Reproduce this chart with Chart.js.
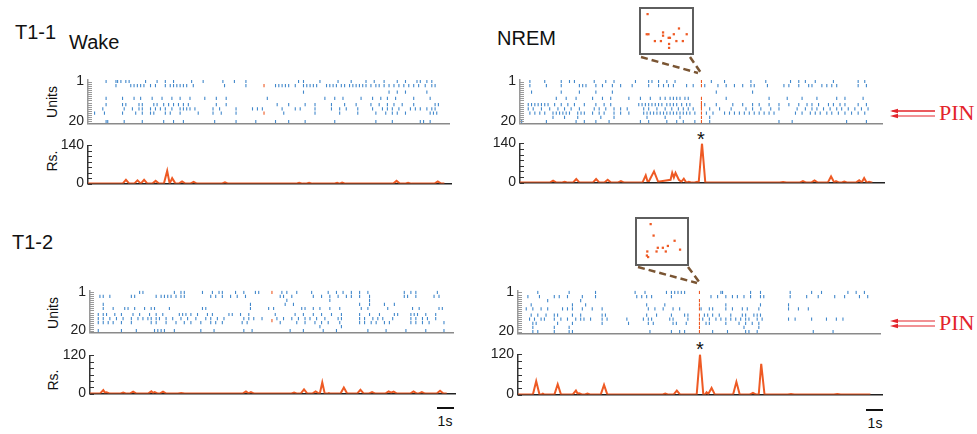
<!DOCTYPE html>
<html>
<head>
<meta charset="utf-8">
<script src="https://cdn.jsdelivr.net/npm/chart.js@4.4.1/dist/chart.umd.min.js"></script>
<style>
  body { margin: 0; background: #fff; width: 977px; height: 434px; position: relative; overflow: hidden;
         font-family: "Liberation Sans", Arial, sans-serif; color: #111; }
  canvas { position: absolute; }
  .t { position: absolute; line-height: 1; white-space: nowrap; }
  .big { font-size: 20px; }
  .rot { font-size: 14px; transform: translate(-50%, -50%) rotate(-90deg); }
  .star { font-size: 20px; transform: translateX(-50%); }
  .pin { font-family: "Liberation Serif", "Times New Roman", serif; font-size: 22px; color: #e3242b; }
  .bar { position: absolute; height: 2px; background: #111; }
  .sec { font-size: 14px; transform: translateX(-50%); }
  .inset { position: absolute; border: 2px solid #5e5e5e; box-sizing: border-box; }
  .inset canvas { left: 0; top: 0; }
</style>
</head>
<body>

<div class="t big" style="left:15px;top:22px">T1-1</div>
<div class="t big" style="left:69px;top:32px">Wake</div>
<div class="t big" style="left:497px;top:28px">NREM</div>
<div class="t big" style="left:12px;top:232px">T1-2</div>
<div class="t rot" style="left:52px;top:102px">Units</div>
<div class="t rot" style="left:52px;top:161px">Rs.</div>
<div class="t rot" style="left:53px;top:313px">Units</div>
<div class="t rot" style="left:53px;top:380px">Rs.</div>
<div class="t star" style="left:701px;top:129px">*</div>
<div class="t star" style="left:700px;top:339px">*</div>
<div class="t pin" style="left:939px;top:102px">PIN</div>
<div class="t pin" style="left:939px;top:312px">PIN</div>
<div class="bar" style="left:437px;top:407px;width:16.5px"></div>
<div class="t sec" style="left:445px;top:414px">1s</div>
<div class="bar" style="left:866px;top:409px;width:16.5px"></div>
<div class="t sec" style="left:875px;top:416px">1s</div>

<canvas id="rTL"></canvas><canvas id="lTL"></canvas>
<canvas id="rTR"></canvas><canvas id="lTR"></canvas>
<canvas id="rBL"></canvas><canvas id="lBL"></canvas>
<canvas id="rBR"></canvas><canvas id="lBR"></canvas>

<div class="inset" style="left:639px;top:7px;width:55px;height:48px"><canvas id="iTR" width="51" height="44"></canvas></div>
<div class="inset" style="left:635px;top:217px;width:54px;height:49px"><canvas id="iBR" width="50" height="45"></canvas></div>

<svg width="977" height="434" style="position:absolute;left:0;top:0">
  <defs>
    <marker id="ah" markerWidth="7" markerHeight="5" refX="0" refY="2.5" orient="auto" markerUnits="userSpaceOnUse">
      <path d="M0,2.5 L7,0 L7,5 z" fill="#e3242b"/>
    </marker>
  </defs>
  <g stroke="#7a5533" stroke-width="2.5" stroke-dasharray="7 4" fill="none">
    <line x1="641" y1="57" x2="698" y2="73"/>
    <line x1="690" y1="57" x2="701" y2="73"/>
    <line x1="638" y1="267" x2="697" y2="283"/>
    <line x1="688" y1="267" x2="700" y2="283"/>
  </g>
  <g stroke="#e3242b" stroke-width="1" fill="none">
    <path d="M935,111 L892,111" marker-end="url(#ahE)"/>
  </g>
  <g fill="#e3242b">
    <rect x="896" y="110.5" width="39" height="1"/>
    <rect x="896" y="115.5" width="39" height="1"/>
    <rect x="896" y="320.5" width="39" height="1"/>
    <rect x="896" y="325.5" width="39" height="1"/>
    <path d="M890,111 L898,108.8 L898,113.2 z"/>
    <path d="M890,116 L898,113.8 L898,118.2 z"/>
    <path d="M890,321 L898,318.8 L898,323.2 z"/>
    <path d="M890,326 L898,323.8 L898,328.2 z"/>
  </g>
</svg>

<script>
// spike times (s) per unit row: [unit, [times]]
const tlSpikes = [
  [1, [1.1,1.7,1.8,2.0,2.3,2.5,3.5,4.2,4.7,5.2,6.3,7.0,8.2,8.9,9.6,12.8,13.1,14.1,15.2,16.0,16.9,17.4,18.0,18.8,19.3,20.0,20.2,20.6,20.9]],
  [3, [1.7,2.6,2.8,3.0,3.2,3.4,3.8,4.1,4.7,5.0,5.2,5.4,5.6,5.8,6.0,6.4,8.3,9.6,11.4,11.6,11.8,12.0,12.2,12.6,13.1,13.3,13.5,13.7,13.9,14.5,14.7,14.9,15.1,15.4,15.6,15.9,16.1,16.3,16.5,16.7,16.9,17.2,17.5,17.7,18.0,18.3,18.6,18.9,19.2,19.5,19.8,20.1,20.5,20.9,21.1]],
  [6, [13.1,18.3,18.8,19.3,20.6]],
  [9, [1.1,2.1,2.8,3.2,3.9,4.5,5.1,5.6,6.2,7.1,7.8,8.4,10.9,14.4,15.0,15.5,16.6,17.3,17.8,18.2,18.7,19.8,20.8]],
  [12, [1.1,2.1,2.3,3.1,3.3,4.0,4.2,4.6,4.9,5.2,5.5,5.8,6.1,7.8,8.4,11.5,12.2,13.2,13.8,14.8,15.6,16.3,17.2,17.7,18.2,18.6,19.1,19.8,21.1,21.3]],
  [14, [0.9,2.2,2.7,3.1,3.3,3.8,4.1,4.4,4.7,5.1,5.6,5.8,6.0,6.2,6.5,7.6,8.0,9.0,10.0,10.3,10.6,11.8,12.6,12.9,13.8,14.8,15.3,15.7,16.4,17.3,17.9,18.2,18.5,18.9,19.6,19.9,20.2,20.6,20.9,21.1]],
  [16, [0.4,1.0,2.1,2.9,3.3,3.8,4.0,4.7,5.0,5.6,6.7,7.6,8.1,9.0,11.9,13.8,15.3,16.4,17.5,18.1,18.5,18.8,19.3,20.8,21.0,21.2]],
  [20, [1.1,1.2,2.2,3.3,4.6,5.2,5.8,7.7,9.0,10.2,11.4,12.2,13.2,15.0,17.5,18.5,20.2,20.4,20.8]]
];
const tlRedUnits = [3, 16];
const tlRedTime = 10.7;

const trSpikes = [
  [1, [0.6,1.5,2.5,3.0,3.3,4.5,5.2,5.7,7.0,7.8,8.0,8.4,8.9,9.4,11.6,12.4,14.0,14.9,16.4,16.9,17.3,17.9,19.0,20.5,20.9]],
  [3, [0.6,1.6,2.5,3.6,3.8,4.0,4.6,5.0,5.6,6.1,6.8,7.8,8.4,8.7,9.0,9.3,10.1,10.5,11.2,12.0,12.5,13.0,13.5,14.0,14.2,15.0,16.0,16.3,16.9,17.5,17.7,18.3,18.6,18.9,19.2,20.5,21.0]],
  [6, [0.7,2.5,3.6,4.6,5.6,11.9,14.1]],
  [9, [2.2,2.8,3.4,4.4,5.0,5.5,6.6,7.3,7.9,8.5,8.8,9.1,9.3,9.5,9.7,10.0,10.2,12.5,15.1,16.2,17.1,18.0,19.2,19.7,20.8]],
  [12, [0.5,0.7,0.9,1.1,1.3,1.5,1.7,2.1,2.5,2.9,3.3,3.9,4.6,5.1,5.5,7.2,7.4,7.6,7.8,8.0,8.2,8.4,8.6,8.9,9.1,9.3,9.5,9.8,10.1,10.3,11.2,11.9,12.9,13.5,14.1,14.5,15.1,15.7,16.3,16.9,17.4,17.7,18.1,18.7,19.0,19.4,19.7,20.5,21.0]],
  [14, [0.5,0.8,1.3,1.8,2.3,2.7,3.1,3.6,4.5,4.8,5.2,5.7,6.1,6.5,7.5,7.8,8.3,8.8,9.2,9.6,9.9,10.2,10.5,11.5,12.1,12.8,13.7,14.1,14.6,15.2,15.7,16.8,17.3,17.7,18.0,18.4,18.8,19.2,19.5,19.9,20.3,20.7,21.1]],
  [16, [0.6,0.9,1.2,1.5,2.0,2.2,2.4,2.6,2.8,3.0,3.5,3.7,3.9,4.4,4.8,5.1,5.7,6.1,6.6,7.5,7.7,7.9,8.1,8.3,8.5,8.7,8.9,9.1,9.3,9.5,9.7,9.9,10.1,10.3,10.6,11.3,11.7,12.4,12.7,13.0,13.3,13.6,13.9,14.2,14.5,14.8,15.1,15.4,16.7,17.1,17.6,17.9,18.2,18.6,18.9,19.3,19.7,20.1,20.5,20.9]],
  [18, [2.0,2.7,3.5,4.9,5.7,7.7,8.8,9.7,11.5]],
  [20, [0.1,1.6,3.4,3.9,4.6,5.4,7.3,7.8,8.9,9.5,9.9,10.6,11.5,15.7,16.5,19.8,21.0]]
];
const trRedUnits = [1, 3, 9, 11, 12, 13, 14, 16, 18, 20];
const trRedTime = 11.0;

const blSpikes = [
  [1, [3.0,3.2,5.1,5.5,5.7,6.8,7.4,7.8,8.0,8.8,9.3,10.0,10.2,11.6,11.9,12.5,13.4,14.4,14.9,15.3,15.8,16.3,16.8,19.0,19.4,19.7,21.0]],
  [3, [0.6,0.8,1.2,2.5,2.7,4.0,4.3,4.5,4.7,4.9,5.2,5.5,5.7,7.3,7.6,8.0,8.5,8.9,9.4,11.5,11.7,12.2,13.5,14.0,14.5,15.0,15.5,15.8,16.3,16.9,19.0,19.2,19.7,20.8,21.1]],
  [5, [11.9,14.5,16.9]],
  [7, [0.8,9.7,11.8,12.3,16.3,16.9,17.8,18.4]],
  [9, [0.8,1.4,2.1,2.3,2.7,3.3,3.7,3.9,4.8,6.8,7.0,9.7,10.8,11.1,12.8,13.0,13.5,13.9,14.5,15.1,16.4,16.8,18.0,19.5,19.9,21.1,21.3]],
  [12, [0.5,0.8,1.0,1.5,1.9,2.6,3.0,3.6,4.0,4.4,5.4,5.6,5.8,6.1,6.5,7.1,7.4,8.4,8.6,9.1,9.6,11.2,12.4,12.9,13.5,14.0,14.6,15.2,16.3,16.9,17.5,18.4,18.6,19.4,19.6,19.8,20.3,20.9]],
  [14, [0.5,0.8,1.2,1.6,2.0,2.5,2.9,3.2,3.5,3.7,4.0,4.2,4.6,5.0,5.5,5.9,6.4,7.0,7.3,7.7,8.1,9.3,9.6,9.9,10.4,11.3,11.7,12.2,12.6,13.0,13.3,13.7,14.2,15.0,15.2,16.3,16.6,17.1,17.4,17.7,18.3,19.4,19.7,20.1,20.4,20.9]],
  [16, [0.5,0.8,1.1,1.4,1.9,2.5,3.7,4.0,4.6,5.2,5.7,6.1,6.7,7.3,7.6,8.0,9.2,9.5,11.5,12.5,13.0,13.6,14.0,14.4,15.1,16.3,16.6,17.0,17.3,17.8,18.1,19.4,19.7,20.1,20.5,21.4]],
  [18, [13.9,15.2]],
  [20, [0.5,1.9,2.8,3.9,4.1,4.3,4.5,5.1,6.7,7.5,9.3,9.8,12.1,12.9,14.1,14.9,16.8,17.9,19.1,20.3,21.4]]
];
const blRedUnits = [1, 15];
const blRedTime = 11.0;

const brSpikes = [
  [1, [1.2,3.1,4.7,7.1,7.7,9.0,9.3,9.5,9.7,9.9,10.1,12.3,12.4,14.1,14.7,16.5,17.8,18.4,20.0,20.5,21.0]],
  [3, [0.6,1.3,2.2,2.5,3.0,3.9,4.7,7.2,7.5,7.8,8.1,9.3,11.7,12.1,12.6,13.0,13.3,13.7,14.1,14.7,14.9,16.5,17.5,18.2,19.2,19.8,20.7,21.2]],
  [5, [1.8,3.8]],
  [7, [0.8,3.3,4.1,7.8,8.9,12.6,14.7,16.4]],
  [9, [0.5,0.9,1.4,1.8,2.7,3.0,3.3,3.9,4.5,5.1,7.9,8.3,8.8,9.4,9.8,11.1,11.6,11.8,12.6,13.0,13.6,13.9,14.6,16.4,17.0,17.6]],
  [12, [0.8,1.2,1.7,2.2,2.4,3.3,3.8,5.1,5.3,7.8,8.4,9.3,10.1,10.3,11.3,11.5,11.8,12.2,12.9,13.6,13.8,14.3,14.5,14.7]],
  [14, [0.7,1.0,1.4,1.6,2.2,2.6,3.0,3.5,3.8,4.0,4.4,5.1,5.4,6.6,7.6,7.9,8.1,9.2,9.4,10.3,11.2,11.6,12.0,12.3,12.6,12.9,13.2,13.5,13.8,14.0,14.5,14.8,16.4,16.8,17.8,18.7,19.3,19.7]],
  [16, [0.9,1.1,2.4,3.3,5.1,6.7,7.9,8.2,9.4,9.6,10.2,11.4,11.6,12.6,13.4,13.8,14.2,14.6]],
  [18, [0.9,2.2,3.1,13.7,14.6]],
  [20, [0.9,1.2,2.2,3.1,3.3,8.0,9.3,9.8,10.1,11.8,12.7,13.8,14.0,14.5,17.9,19.1]]
];
const brRedUnits = [1, 5, 7, 9, 12, 14, 16, 18, 20];
const brRedTime = 11.0;

// Rs. traces: [time (s), value]
const tlRs = [[0,0],[2.1,0],[2.3,14],[2.5,0],[2.8,0],[3.0,12],[3.2,0],[3.4,14],[3.6,0],[3.9,0],[4.1,10],[4.3,0],[4.6,0],[4.8,47],[4.95,0],[5.1,20],[5.3,0],[5.5,0],[5.7,8],[5.9,0],[6.2,0],[6.4,6],[6.6,0],[8.1,0],[8.3,5],[8.5,0],[12.6,0],[12.8,3],[13.0,0],[13.2,0],[13.4,3],[13.6,0],[14.9,0],[15.1,3],[15.25,0],[15.4,4],[15.6,0],[18.5,0],[18.7,10],[18.9,0],[19.2,0],[19.4,3],[19.6,0],[21.0,0],[21.2,8],[21.4,0],[21.6,0]];
const trRs = [[0,0],[1.8,0],[2.0,7],[2.2,0],[2.5,0],[2.7,3],[2.9,0],[3.2,0],[3.4,13],[3.6,0],[4.4,0],[4.6,13],[4.8,0],[5.1,0],[5.3,10],[5.5,0],[5.9,0],[6.1,5],[6.3,0],[7.4,0],[7.6,26],[7.7,6],[7.8,6],[8.1,40],[8.35,3],[9.1,10],[9.2,35],[9.3,18],[9.4,35],[9.6,10],[9.75,3],[9.9,14],[10.05,0],[10.2,3],[10.4,0],[10.5,0],[10.7,3],[10.8,0],[11.0,140],[11.2,0],[15.7,0],[15.9,2],[16.1,0],[16.9,0],[17.1,5],[17.3,0],[17.6,0],[17.8,8],[18.0,0],[18.6,0],[18.8,22],[19.0,0],[19.1,5],[19.3,0],[19.4,0],[19.6,4],[19.8,0],[20.3,0],[20.5,8],[20.65,0],[20.8,16],[20.95,0],[21.1,3],[21.3,0]];
const blRs = [[0,0],[0.6,0],[0.8,11],[0.9,3],[1.0,4],[1.2,0],[1.8,0],[2.0,3],[2.2,0],[2.4,0],[2.6,6],[2.8,0],[3.5,0],[3.7,7],[3.8,2],[3.9,5],[4.1,0],[4.2,0],[4.4,6],[4.6,0],[5.3,0],[5.5,2],[5.7,0],[9.2,0],[9.4,7],[9.55,1],[9.7,5],[9.9,0],[12.1,0],[12.3,3],[12.5,0],[12.7,0],[12.9,13],[13.1,0],[13.4,0],[13.6,7],[13.8,0],[13.85,0],[14.0,35],[14.15,0],[14.3,0],[14.4,2],[14.5,0],[15.1,0],[15.3,19],[15.5,0],[16.1,0],[16.3,12],[16.5,0],[16.8,0],[17.0,5],[17.2,0],[17.8,0],[18.0,7],[18.15,3],[18.3,6],[18.5,0],[19.3,0],[19.5,7],[19.7,0],[19.8,0],[20.0,5],[20.2,0],[20.9,0],[21.1,9],[21.3,0],[21.5,0]];
const brRs = [[0,0],[0.9,0],[1.1,40],[1.3,0],[1.4,0],[1.5,3],[1.6,0],[2.2,0],[2.4,31],[2.6,0],[3.3,0],[3.5,12],[3.6,3],[3.7,4],[3.9,0],[4.0,0],[4.2,3],[4.4,0],[5.0,0],[5.2,29],[5.4,0],[8.7,0],[8.9,3],[9.1,0],[9.4,0],[9.6,12],[9.8,0],[10.8,0],[11.0,120],[11.2,0],[11.3,0],[11.4,7],[11.5,2],[11.7,20],[11.9,0],[13.0,0],[13.2,38],[13.4,0],[14.0,0],[14.2,5],[14.4,0],[14.55,0],[14.7,92],[14.9,0],[16.3,0],[16.5,2],[16.7,0],[19.1,0],[19.3,2],[19.5,0],[21.3,0]];

// zoomed insets (arbitrary 0-10 units)
const trInset = [[0.6,9.7],[0.4,4.1],[0.8,4.1],[2.3,2.2],[3.7,2.2],[4.2,4.6],[4.2,3.7],[5.5,3.1],[5.8,3.1],[5.6,1.4],[5.6,0.3],[6.7,4.1],[7.3,2.2],[7.9,5.7],[8.8,2.2],[9.7,4.1]];
const brInset = [[2.3,9.7],[3.0,6.6],[8.0,5.2],[6.4,3.8],[5.2,3.3],[4.0,3.3],[9.3,2.8],[1.5,2.3],[3.7,2.3],[5.9,2.3],[1.4,1.2],[1.7,0.8]];

const BLUE = "#4288cb";
const ORANGE = "#ee5a24";
const AX = 40, PT = 10, XB = 10, PR = 4;

const inwardTicks = {
  id: "inwardTicks",
  afterDatasetsDraw(chart, args, o) {
    if (!o || !o.len) return;
    const s = chart.scales.y, c = chart.ctx;
    c.save();
    c.strokeStyle = o.color;
    c.lineWidth = 1;
    s.ticks.forEach(t => {
      if (t.value < o.from || t.value > o.to) return;
      const y = Math.round(s.getPixelForValue(t.value)) + 0.5;
      c.beginPath();
      c.moveTo(s.right, y);
      c.lineTo(s.right + o.len, y);
      c.stroke();
    });
    c.restore();
  }
};
Chart.register(inwardTicks);

function place(id, L, top, bottom, right) {
  const cv = document.getElementById(id);
  cv.width = AX + (right - L) + PR;
  cv.height = PT + (bottom - top) + XB;
  cv.style.left = (L - AX) + "px";
  cv.style.top = (top - PT) + "px";
  return cv;
}

function opts(y, axisColor, ticksOpt) {
  return {
    responsive: false, animation: false, devicePixelRatio: 1,
    layout: { padding: { top: PT, right: PR, bottom: 0, left: 0 } },
    plugins: { legend: { display: false }, tooltip: { enabled: false }, inwardTicks: ticksOpt },
    scales: {
      x: { type: "linear", min: 0, max: 22, grid: { display: false, drawTicks: false },
           ticks: { display: false }, border: { color: axisColor, width: 1.5 },
           afterFit: s => { s.height = XB; } },
      y: Object.assign({ grid: { display: false, drawTicks: false },
           afterFit: s => { s.width = AX; } }, y)
    }
  };
}

function raster(id, box, rows, redUnits, redTime) {
  const cv = place(id, box[0], box[1], box[2], box[3]);
  const blue = [];
  rows.forEach(([u, ts]) => ts.forEach(t => blue.push({ x: t, y: u })));
  const red = redUnits.map(u => ({ x: redTime, y: u }));
  const ds = (data, col) => ({ data, pointStyle: "line", rotation: 90, radius: 1.6,
    borderColor: col, backgroundColor: col, borderWidth: 1.1 });
  new Chart(cv, {
    type: "scatter",
    data: { datasets: [ds(blue, BLUE), ds(red, ORANGE)] },
    options: opts({
      min: 0, max: 21, reverse: true,
      border: { color: "#9a9a9a", width: 1.5 },
      ticks: { stepSize: 1, autoSkip: false, padding: 4, color: "#222", font: { size: 14 },
               callback: v => (v === 1 || v === 20) ? String(v) : "" }
    }, "#8a8a8a", { len: 4, color: "#999", from: 1, to: 20 })
  });
}

function rsLine(id, box, series, top) {
  const cv = place(id, box[0], box[1], box[2], box[3]);
  new Chart(cv, {
    type: "line",
    data: { datasets: [{ data: series, borderColor: ORANGE, borderWidth: 2, pointRadius: 0, tension: 0 }] },
    options: opts({
      min: 0, max: top,
      border: { color: "#333", width: 1.5 },
      ticks: { stepSize: 20, autoSkip: false, padding: 4, color: "#222", font: { size: 14 },
               callback: v => (v === 0 || v === top) ? String(v) : "" }
    }, "#222", { len: 4, color: "#333", from: 0, to: top })
  });
}

function inset(id, pts) {
  new Chart(document.getElementById(id), {
    type: "scatter",
    data: { datasets: [{ data: pts.map(p => ({ x: p[0], y: p[1] })), pointStyle: "rect", radius: 1.6,
      backgroundColor: ORANGE, borderWidth: 0 }] },
    options: {
      responsive: false, animation: false, devicePixelRatio: 1,
      layout: { padding: 2 },
      plugins: { legend: { display: false }, tooltip: { enabled: false }, inwardTicks: false },
      scales: { x: { display: false, min: 0, max: 10 }, y: { display: false, min: 0, max: 10 } }
    }
  });
}

raster("rTL", [88, 77, 126, 451], tlSpikes, tlRedUnits, tlRedTime);
rsLine("lTL", [88, 143, 186, 451], tlRs, 140);
raster("rTR", [520, 77, 126, 884], trSpikes, trRedUnits, trRedTime);
rsLine("lTR", [520, 141, 185, 884], trRs, 140);
raster("rBL", [90, 288, 335, 455], blSpikes, blRedUnits, blRedTime);
rsLine("lBL", [90, 353, 396, 455], blRs, 120);
raster("rBR", [518, 288, 336, 882], brSpikes, brRedUnits, brRedTime);
rsLine("lBR", [518, 352, 397, 882], brRs, 120);
inset("iTR", trInset);
inset("iBR", brInset);
</script>
</body>
</html>
